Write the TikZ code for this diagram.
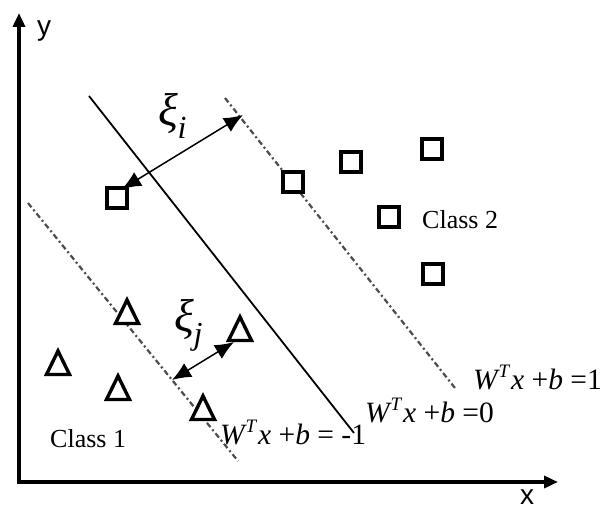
\documentclass[tikz,border=0pt]{standalone}
\usepackage{fontspec}
\setmainfont{Liberation Serif}
\newfontfamily\axfont{Liberation Sans}
\usetikzlibrary{arrows.meta,shapes.geometric}
\newcommand{\wlab}[1]{\textit{W}\kern-1.5pt\raisebox{0.40em}{\fontsize{19}{19}\selectfont\textit{T}}\kern1pt\textit{x} +\textit{b} #1}
\begin{document}
\begin{tikzpicture}[x=1pt,y=-1pt,
 axis/.style={line width=3.6pt, line join=miter, {Triangle[length=14pt,width=12pt]}-{Triangle[length=14pt,width=12pt]}},
 sq/.style={draw, fill=white, line width=3.4pt, rectangle, minimum size=20pt, inner sep=0},
 tri/.style={draw, fill=white, line width=3.4pt, line join=miter},
 margin/.style={draw=black!70, line width=2.2pt, dash pattern=on 5.5pt off 3pt on 2pt off 3pt},
 slack/.style={line width=1.5pt, {Latex[length=19pt,width=16pt]}-{Latex[length=19pt,width=16pt]}},
 lab/.style={font=\fontsize{29.5}{31}\selectfont, inner sep=0, anchor=base west},
 clab/.style={font=\fontsize{26}{28}\selectfont, inner sep=0, anchor=base west},
 axlab/.style={font=\axfont\fontsize{28}{30}\selectfont, inner sep=0},
 xilab/.style={font=\fontsize{46}{48}\selectfont, inner sep=0},
]
\useasboundingbox (0,0) rectangle (604,510);
% axes
\coordinate (O) at (19,482);
\coordinate (ytip) at (19,13);
\coordinate (xtip) at (558,482);
\draw[axis] (ytip) -- (O) -- (xtip);
\node[axlab] (ylab) at (44,31) {y};
\node[axlab] (xlab) at (527,497) {x};
% hyperplane and margins
\coordinate (h1) at (89,96);
\coordinate (h2) at (354,433);
\draw[line width=1.8pt] (h1) -- (h2);
\coordinate (u1) at (225,98);
\coordinate (u2) at (455,388);
\draw[margin] (u1) -- (u2);
\coordinate (l1) at (28,203);
\coordinate (l2) at (238,461);
\draw[margin] (l1) -- (l2);
% class 2 squares
\node[sq] (s1) at (117,198) {};
\node[sq] (s2) at (293,182) {};
\node[sq] (s3) at (351,162) {};
\node[sq] (s4) at (432,149) {};
\node[sq] (s5) at (389,217) {};
\node[sq] (s6) at (433,274) {};
% class 1 triangles
\coordinate (t1) at (127,312);
\coordinate (t2) at (58,363);
\coordinate (t3) at (118,388);
\coordinate (t4) at (203,408);
\coordinate (t5) at (240,329);
\foreach \t in {t1,t2,t3,t4,t5}
  \draw[tri] (\t) ++(-11.5,11.5) -- ++(11.5,-23.5) -- ++(11.5,23.5) -- cycle;
% slack arrows
\coordinate (a1) at (122,189);
\coordinate (a2) at (243,115);
\draw[slack] (a1) -- (a2);
\node[xilab] (xii) at (173,116) {\textit{ξ}\kern-1pt\textsubscript{\textit{i}}};
\coordinate (b1) at (172,380);
\coordinate (b2) at (234,342);
\draw[slack] (b1) -- (b2);
\node[xilab] (xij) at (189,325) {\textit{ξ}\kern-1pt\textsubscript{\textit{j}}};
% labels
\node[clab] (c2) at (422,229) {Class 2};
\node[clab] (c1) at (50,447) {Class 1};
\node[lab] (e1) at (473,389) {\wlab{=1}};
\node[lab] (e0) at (365,422) {\wlab{=0}};
\node[lab] (em) at (220,444) {\wlab{= -1}};
\end{tikzpicture}
\end{document}
